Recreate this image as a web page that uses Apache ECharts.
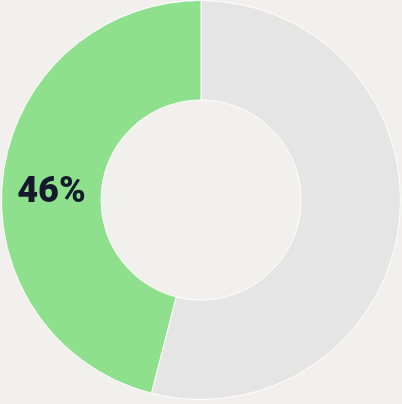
<!DOCTYPE html>
<html><head><meta charset="utf-8">
<script src="https://cdn.jsdelivr.net/npm/echarts@6/dist/echarts.min.js"></script>
<style>html,body{margin:0;padding:0;background:#f1f0ec;}#c{width:402px;height:404px;}</style>
</head><body><div id="c"></div>
<script>
const categories = ['Other', 'Share'];
const values = [54, 46];
const colors = ['#e5e5e5', '#8ee08d'];
const labels = ['', '46%'];

const chart = echarts.init(document.getElementById('c'), null, {renderer: 'canvas'});
chart.setOption({
  backgroundColor: '#f1f0ec',
  animation: false,
  series: [{
    type: 'pie',
    center: [201, 200],
    radius: [100, 199.5],
    startAngle: 90,
    clockwise: true,
    avoidLabelOverlap: false,
    itemStyle: {borderColor: '#ffffff', borderWidth: 1},
    emphasis: {disabled: true},
    data: categories.map((c, i) => ({
      name: c,
      value: values[i],
      itemStyle: {color: colors[i]},
      label: {
        show: labels[i] !== '',
        position: 'inside',
        formatter: labels[i],
        fontFamily: 'Roboto',
        fontWeight: 900,
        fontSize: 36,
        color: '#121a2b',
        offset: [2, 12]
      }
    }))
  }]
});
</script></body></html>
